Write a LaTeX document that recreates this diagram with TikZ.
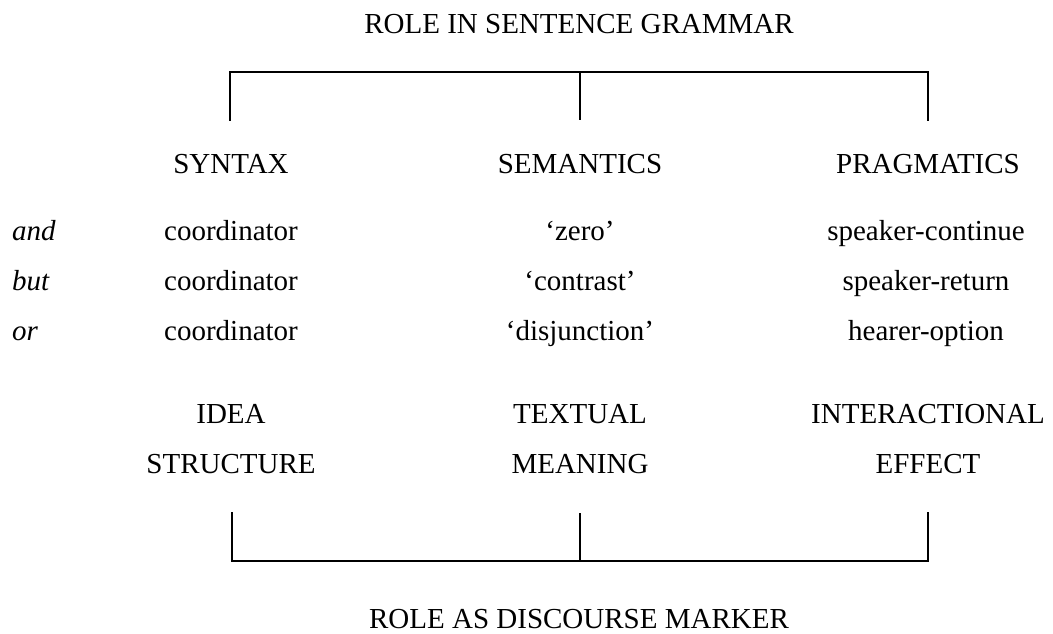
\documentclass[tikz,border=0pt]{standalone}
\usepackage{fontspec}
\setmainfont{Liberation Serif}
\begin{document}
\begin{tikzpicture}[x=1pt,y=-1pt,
  lbl/.style={anchor=base,inner sep=0pt,font=\fontsize{29}{34}\selectfont},
  word/.style={anchor=base west,inner sep=0pt,font=\fontsize{29}{34}\selectfont\itshape},
  bracket/.style={line width=1.6pt,line cap=rect,line join=miter}]
\useasboundingbox (0,0) rectangle (1053,633);
% titles
\node[lbl] (top) at (579,33) {ROLE IN SENTENCE GRAMMAR};
\node[lbl,text depth=0pt] (bot) at (579,628) {ROLE AS DISCOURSE MARKER};
% headers
\node[lbl] (syn) at (231,173) {SYNTAX};
\node[lbl] (sem) at (580,173) {SEMANTICS};
\node[lbl] (pra) at (928,173) {PRAGMATICS};
% rows
\node[word] (and) at (12,240) {and};
\node[word] (but) at (12,290) {but};
\node[word] (or)  at (12,340) {or};
\node[lbl] (c1) at (231,240) {coordinator};
\node[lbl] (c2) at (231,290) {coordinator};
\node[lbl] (c3) at (231,340) {coordinator};
\node[lbl] (s1) at (580,240) {‘zero’};
\node[lbl] (s2) at (580,290) {‘contrast’};
\node[lbl] (s3) at (580,340) {‘disjunction’};
\node[lbl] (p1) at (926,240) {speaker-continue};
\node[lbl] (p2) at (926,290) {speaker-return};
\node[lbl] (p3) at (926,340) {hearer-option};
% discourse roles
\node[lbl] (i1) at (231,423) {IDEA};
\node[lbl] (i2) at (231,473) {STRUCTURE};
\node[lbl] (t1) at (580,423) {TEXTUAL};
\node[lbl] (t2) at (580,473) {MEANING};
\node[lbl] (e1) at (928,423) {INTERACTIONAL};
\node[lbl] (e2) at (928,473) {EFFECT};
% top bracket
\coordinate (tl) at (230,72);
\coordinate (tm) at (580,72);
\coordinate (tr) at (928,72);
\coordinate (tlb) at (230,120);
\coordinate (tmb) at (580,120);
\coordinate (trb) at (928,120);
\draw[bracket] (tlb) -- (tl) -- (tr) -- (trb);
\draw[bracket,line cap=butt] (tm) -- (tmb);
% bottom bracket
\coordinate (bl) at (232,561);
\coordinate (bm) at (580,561);
\coordinate (br) at (928,561);
\coordinate (blt) at (232,513);
\coordinate (bmt) at (580,513);
\coordinate (brt) at (928,513);
\draw[bracket] (blt) -- (bl) -- (br) -- (brt);
\draw[bracket,line cap=butt] (bm) -- (bmt);
\end{tikzpicture}
\end{document}
